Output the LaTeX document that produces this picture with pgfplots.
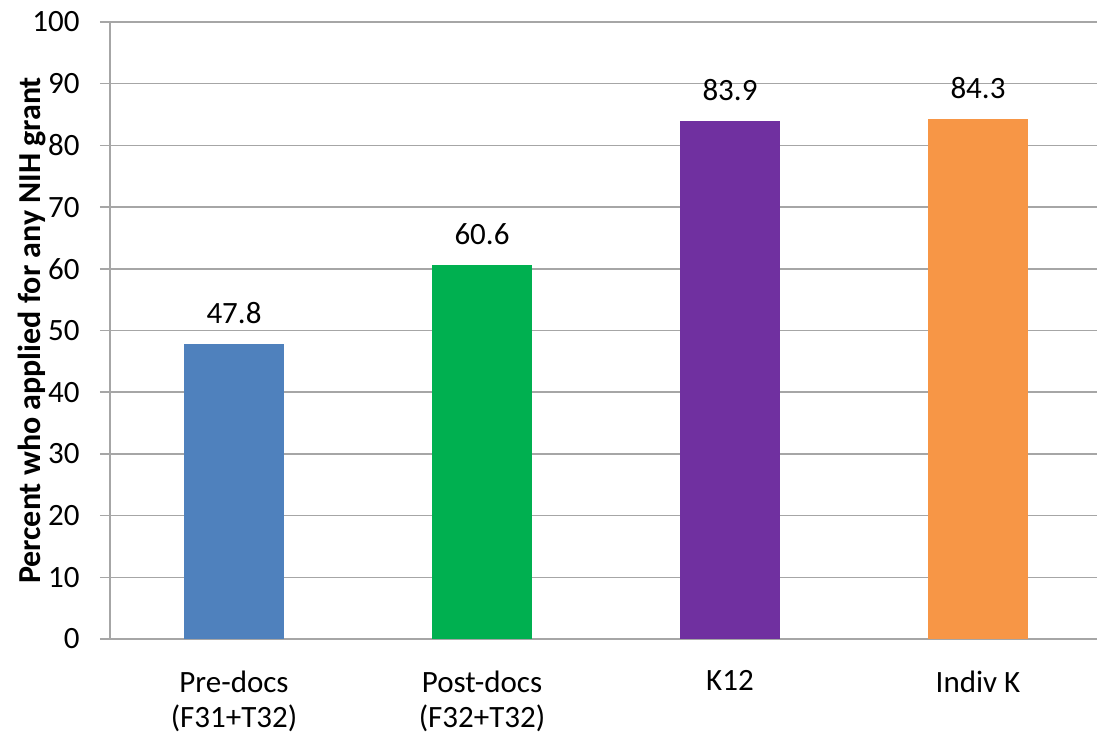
\documentclass[border=0pt]{standalone}
\usepackage{pgfplots}
\pgfplotsset{compat=1.18}
\usepackage{fontspec}
\setmainfont{Carlito}
\definecolor{cblue}{HTML}{4F81BD}
\definecolor{cgreen}{HTML}{00B050}
\definecolor{cpurple}{HTML}{7030A0}
\definecolor{corange}{HTML}{F79646}
\definecolor{gridgray}{HTML}{A6A6A6}
\begin{document}
\begin{tikzpicture}[x=1pt,y=1pt]
\begin{axis}[
  at={(110pt,99pt)}, anchor=south west,
  scale only axis,
  width=992pt, height=617pt,
  xmin=-0.5, xmax=3.5,
  ymin=0, ymax=100,
  ytick={0,10,...,100},
  xtick={0,1,2,3},
  xticklabels={{Pre-docs\\(F31+T32)},{Post-docs\\(F32+T32)},{K12},{Indiv K}},
  major x tick style={draw=none},
  extra x ticks={-0.5,0.5,1.5,2.5,3.5},
  extra x tick labels={},
  extra x tick style={grid=none, major tick length=10pt, tick style={draw=gridgray, line width=1.5pt}},
  tick align=outside,
  major tick length=10pt,
  ymajorgrids,
  grid style={gridgray, line width=1.5pt},
  axis x line*=bottom, axis y line*=left,
  axis line style={gridgray, line width=1.5pt},
  y tick style={gridgray, line width=1.5pt},
  /pgf/number format/assume math mode=true,
  ticklabel style={font=\fontsize{31}{35}\selectfont, text=black},
  xticklabel style={align=center, yshift=-18pt},
  yticklabel style={xshift=-17pt},
  ylabel={\textbf{Percent who applied for any NIH grant}},
  ylabel style={font=\fontsize{32}{36}\selectfont, at={(axis description cs:-0.0786,0.5)}, anchor=center},
  ybar, bar width=100pt, bar shift=0pt,
  nodes near coords={\pgfmathprintnumber[fixed,fixed zerofill,precision=1,assume math mode=true]{\pgfplotspointmeta}},
  nodes near coords style={font=\fontsize{31}{35}\selectfont, text=black, yshift=17pt},
]
\addplot[fill=cblue, draw=none] coordinates {(0,47.8)};
\addplot[fill=cgreen, draw=none] coordinates {(1,60.6)};
\addplot[fill=cpurple, draw=none] coordinates {(2,83.9)};
\addplot[fill=corange, draw=none] coordinates {(3,84.3)};
\end{axis}
\pgfresetboundingbox
\path (0,0) rectangle (1097pt,738pt);
\end{tikzpicture}
\end{document}
